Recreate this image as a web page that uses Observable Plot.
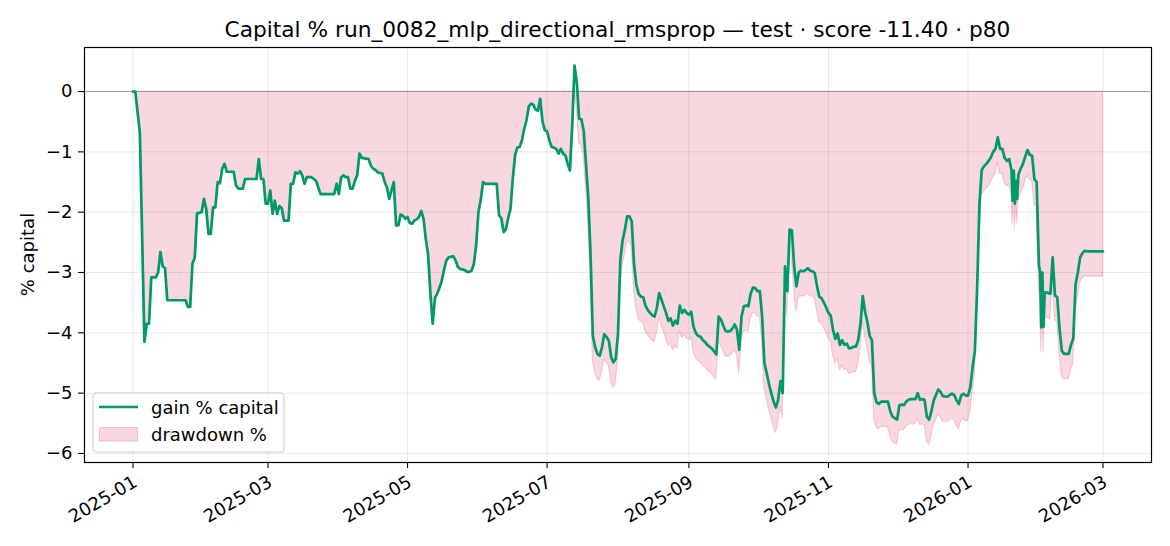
<!DOCTYPE html>
<html>
<head>
<meta charset="utf-8">
<script src="https://cdn.jsdelivr.net/npm/d3@7"></script>
<script src="https://cdn.jsdelivr.net/npm/@observablehq/plot@0.6"></script>
<style>
  html, body { margin: 0; padding: 0; background: #fff; }
  svg { display: block; }
</style>
</head>
<body>
<div id="chart"></div>
<script>
const titleText = "Capital % run_0082_mlp_directional_rmsprop — test · score -11.40 · p80";
const yLabel = "% capital";
const seriesNames = ["gain % capital", "drawdown %"];
const xTickLabels = ["2025-01", "2025-03", "2025-05", "2025-07", "2025-09", "2025-11", "2026-01", "2026-03"];
const yTicks = [0, -1, -2, -3, -4, -5, -6];

const gainSeries = [
["2025-01-01",0],["2025-01-02",0],["2025-01-03",-0.34],["2025-01-04",-0.68],["2025-01-05",-2.40],["2025-01-06",-4.15],
["2025-01-07",-3.85],["2025-01-08",-3.85],["2025-01-09",-3.08],["2025-01-11",-3.08],["2025-01-12",-3.00],["2025-01-13",-2.66],
["2025-01-14",-2.90],["2025-01-15",-2.93],["2025-01-16",-3.46],["2025-01-24",-3.46],["2025-01-25",-3.57],["2025-01-26",-3.57],
["2025-01-27",-2.85],["2025-01-28",-2.75],["2025-01-29",-2.02],["2025-01-31",-2.00],
["2025-02-01",-1.78],["2025-02-02",-1.95],["2025-02-03",-2.36],["2025-02-04",-2.36],["2025-02-05",-1.92],["2025-02-06",-1.92],
["2025-02-07",-1.50],["2025-02-08",-1.52],["2025-02-09",-1.28],["2025-02-10",-1.20],["2025-02-11",-1.33],["2025-02-14",-1.33],
["2025-02-15",-1.55],["2025-02-16",-1.61],["2025-02-18",-1.61],["2025-02-19",-1.45],["2025-02-24",-1.45],["2025-02-25",-1.12],
["2025-02-26",-1.45],["2025-02-27",-1.45],["2025-02-28",-1.86],
["2025-03-01",-1.86],["2025-03-02",-1.64],["2025-03-03",-2.03],["2025-03-04",-1.81],["2025-03-05",-2.03],["2025-03-06",-1.90],
["2025-03-07",-1.93],["2025-03-08",-2.14],["2025-03-10",-2.14],["2025-03-11",-1.53],["2025-03-12",-1.53],["2025-03-13",-1.34],
["2025-03-14",-1.36],["2025-03-15",-1.32],["2025-03-16",-1.39],["2025-03-17",-1.53],["2025-03-18",-1.42],["2025-03-20",-1.42],
["2025-03-21",-1.45],["2025-03-22",-1.48],["2025-03-23",-1.59],["2025-03-24",-1.70],["2025-03-30",-1.70],["2025-03-31",-1.53],
["2025-04-01",-1.70],["2025-04-02",-1.42],["2025-04-03",-1.39],["2025-04-04",-1.42],["2025-04-05",-1.42],["2025-04-06",-1.61],
["2025-04-07",-1.61],["2025-04-08",-1.48],["2025-04-09",-1.39],["2025-04-10",-1.03],["2025-04-11",-1.10],["2025-04-14",-1.12],
["2025-04-15",-1.23],["2025-04-16",-1.28],["2025-04-17",-1.30],["2025-04-18",-1.34],["2025-04-19",-1.35],["2025-04-20",-1.36],
["2025-04-21",-1.50],["2025-04-22",-1.59],["2025-04-23",-1.78],["2025-04-24",-1.64],["2025-04-25",-1.50],["2025-04-26",-2.22],
["2025-04-27",-2.22],["2025-04-28",-2.04],["2025-04-29",-2.06],["2025-04-30",-2.11],
["2025-05-01",-2.08],["2025-05-02",-2.18],["2025-05-03",-2.19],["2025-05-04",-2.14],["2025-05-05",-2.12],["2025-05-06",-2.08],
["2025-05-07",-1.98],["2025-05-08",-2.11],["2025-05-09",-2.45],["2025-05-10",-2.70],["2025-05-11",-3.35],["2025-05-12",-3.85],
["2025-05-13",-3.42],["2025-05-14",-3.35],["2025-05-15",-3.25],["2025-05-16",-3.13],["2025-05-17",-2.95],["2025-05-18",-2.80],
["2025-05-19",-2.75],["2025-05-21",-2.73],["2025-05-22",-2.80],["2025-05-23",-2.91],["2025-05-24",-2.94],["2025-05-26",-2.96],
["2025-05-27",-2.99],["2025-05-28",-2.99],["2025-05-29",-2.97],["2025-05-30",-2.86],["2025-05-31",-2.55],
["2025-06-01",-2.00],["2025-06-02",-1.80],["2025-06-03",-1.50],["2025-06-04",-1.53],["2025-06-09",-1.53],["2025-06-10",-2.05],
["2025-06-11",-2.10],["2025-06-12",-2.33],["2025-06-13",-2.28],["2025-06-14",-2.10],["2025-06-15",-1.95],["2025-06-16",-1.45],
["2025-06-17",-1.06],["2025-06-18",-0.93],["2025-06-19",-0.92],["2025-06-20",-0.81],["2025-06-21",-0.62],["2025-06-22",-0.48],
["2025-06-23",-0.25],["2025-06-24",-0.20],["2025-06-25",-0.22],["2025-06-26",-0.30],["2025-06-27",-0.32],["2025-06-28",-0.12],
["2025-06-29",-0.50],["2025-06-30",-0.64],
["2025-07-01",-0.66],["2025-07-02",-0.81],["2025-07-03",-0.92],["2025-07-04",-0.93],["2025-07-05",-0.95],["2025-07-06",-1.03],
["2025-07-07",-0.95],["2025-07-08",-1.03],["2025-07-09",-1.06],["2025-07-10",-1.20],["2025-07-11",-1.31],["2025-07-12",-0.56],
["2025-07-13",0.43],["2025-07-14",0.15],["2025-07-15",-0.45],["2025-07-16",-0.46],["2025-07-17",-0.65],["2025-07-18",-1.20],
["2025-07-19",-1.75],["2025-07-20",-2.70],["2025-07-21",-4.05],["2025-07-22",-4.24],["2025-07-23",-4.35],["2025-07-24",-4.38],
["2025-07-25",-4.24],["2025-07-26",-4.02],["2025-07-27",-4.07],["2025-07-28",-4.13],["2025-07-29",-4.40],["2025-07-30",-4.49],
["2025-07-31",-4.43],
["2025-08-01",-4.02],["2025-08-02",-2.80],["2025-08-03",-2.47],["2025-08-04",-2.29],["2025-08-05",-2.07],["2025-08-06",-2.07],
["2025-08-07",-2.15],["2025-08-08",-2.85],["2025-08-09",-3.20],["2025-08-10",-3.35],["2025-08-11",-3.40],["2025-08-12",-3.41],
["2025-08-13",-3.55],["2025-08-14",-3.62],["2025-08-15",-3.67],["2025-08-16",-3.71],["2025-08-17",-3.73],["2025-08-18",-3.58],
["2025-08-19",-3.34],["2025-08-20",-3.45],["2025-08-21",-3.56],["2025-08-22",-3.67],["2025-08-23",-3.80],["2025-08-24",-3.76],
["2025-08-25",-3.88],["2025-08-26",-3.80],["2025-08-27",-3.85],["2025-08-28",-3.55],["2025-08-29",-3.67],["2025-08-30",-3.62],
["2025-08-31",-3.67],
["2025-09-01",-3.70],["2025-09-02",-3.65],["2025-09-03",-3.90],["2025-09-04",-4.00],["2025-09-05",-4.05],["2025-09-06",-4.06],
["2025-09-07",-4.12],["2025-09-08",-4.15],["2025-09-09",-4.20],["2025-09-10",-4.23],["2025-09-11",-4.26],["2025-09-12",-4.31],
["2025-09-13",-4.36],["2025-09-14",-3.73],["2025-09-15",-3.78],["2025-09-16",-3.88],["2025-09-17",-3.97],["2025-09-18",-3.98],
["2025-09-19",-3.97],["2025-09-20",-3.93],["2025-09-21",-3.86],["2025-09-22",-3.95],["2025-09-23",-4.28],["2025-09-24",-3.73],
["2025-09-25",-3.56],["2025-09-26",-3.55],["2025-09-27",-3.56],["2025-09-28",-3.35],["2025-09-29",-3.25],["2025-09-30",-3.26],
["2025-10-01",-3.31],["2025-10-02",-3.31],["2025-10-03",-3.73],["2025-10-04",-4.50],["2025-10-05",-4.67],["2025-10-06",-4.85],
["2025-10-07",-5.00],["2025-10-08",-5.14],["2025-10-09",-5.24],["2025-10-10",-5.11],["2025-10-11",-4.80],["2025-10-12",-5.00],
["2025-10-13",-2.90],["2025-10-14",-3.31],["2025-10-15",-2.29],["2025-10-16",-2.30],["2025-10-17",-2.90],["2025-10-18",-3.23],
["2025-10-19",-3.00],["2025-10-20",-2.97],["2025-10-21",-2.98],["2025-10-22",-2.96],["2025-10-23",-2.93],["2025-10-24",-2.97],
["2025-10-25",-2.98],["2025-10-26",-3.01],["2025-10-27",-3.23],["2025-10-28",-3.40],["2025-10-29",-3.43],["2025-10-30",-3.50],
["2025-10-31",-3.58],
["2025-11-01",-3.67],["2025-11-02",-3.72],["2025-11-03",-3.95],["2025-11-04",-4.10],["2025-11-05",-4.01],["2025-11-06",-4.20],
["2025-11-07",-4.12],["2025-11-08",-4.20],["2025-11-09",-4.18],["2025-11-10",-4.26],["2025-11-11",-4.25],["2025-11-12",-4.23],
["2025-11-13",-4.23],["2025-11-14",-4.12],["2025-11-15",-3.85],["2025-11-16",-3.39],["2025-11-17",-3.65],["2025-11-18",-3.82],
["2025-11-19",-4.05],["2025-11-20",-4.12],["2025-11-21",-5.00],["2025-11-22",-5.15],["2025-11-23",-5.18],["2025-11-24",-5.14],
["2025-11-27",-5.14],["2025-11-28",-5.30],["2025-11-29",-5.39],
["2025-12-01",-5.44],["2025-12-02",-5.20],["2025-12-03",-5.19],["2025-12-04",-5.20],["2025-12-05",-5.14],["2025-12-06",-5.11],
["2025-12-07",-5.10],["2025-12-09",-5.10],["2025-12-10",-5.00],["2025-12-11",-5.11],["2025-12-12",-5.10],["2025-12-13",-5.11],
["2025-12-14",-5.39],["2025-12-15",-5.44],["2025-12-16",-5.30],["2025-12-17",-5.12],["2025-12-18",-5.03],["2025-12-19",-4.94],
["2025-12-20",-4.98],["2025-12-21",-5.05],["2025-12-23",-5.06],["2025-12-24",-5.03],["2025-12-25",-5.01],["2025-12-26",-5.03],
["2025-12-27",-5.12],["2025-12-28",-5.18],["2025-12-29",-5.04],["2025-12-30",-5.01],["2025-12-31",-5.04],
["2026-01-01",-5.04],["2026-01-02",-4.90],["2026-01-03",-4.57],["2026-01-04",-4.30],["2026-01-05",-3.24],["2026-01-06",-1.86],
["2026-01-07",-1.30],["2026-01-08",-1.24],["2026-01-09",-1.20],["2026-01-10",-1.15],["2026-01-11",-1.09],["2026-01-12",-1.00],
["2026-01-13",-0.95],["2026-01-14",-0.76],["2026-01-15",-0.95],["2026-01-16",-0.95],["2026-01-17",-1.10],["2026-01-18",-1.15],
["2026-01-19",-1.12],["2026-01-20",-1.30],["2026-01-20T12:00Z",-1.81],["2026-01-21",-1.31],["2026-01-21T12:00Z",-1.86],
["2026-01-22",-1.48],["2026-01-22T12:00Z",-1.78],["2026-01-23",-1.38],["2026-01-24",-1.28],["2026-01-25",-1.20],["2026-01-26",-1.08],
["2026-01-27",-0.97],["2026-01-28",-1.05],["2026-01-29",-1.06],["2026-01-30",-1.45],["2026-01-31",-1.50],
["2026-02-01",-2.88],["2026-02-01T12:00Z",-2.99],["2026-02-02",-3.91],["2026-02-02T12:00Z",-3.00],["2026-02-03",-3.90],
["2026-02-03T12:00Z",-3.33],["2026-02-04",-3.33],["2026-02-06",-3.35],["2026-02-07",-2.75],["2026-02-08",-3.38],["2026-02-09",-3.41],
["2026-02-10",-3.93],["2026-02-11",-4.30],["2026-02-12",-4.35],["2026-02-14",-4.35],["2026-02-15",-4.20],["2026-02-16",-4.10],
["2026-02-17",-3.20],["2026-02-18",-3.00],["2026-02-19",-2.75],["2026-02-20",-2.68],["2026-02-21",-2.64],["2026-02-22",-2.65],
["2026-03-01",-2.65]
];

const drawdownSeries = [
["2025-01-01",0],["2025-01-02",0],["2025-01-03",-0.34],["2025-01-04",-0.68],["2025-01-05",-2.40],["2025-01-06",-4.15],
["2025-01-07",-3.85],["2025-01-08",-3.85],["2025-01-09",-3.08],["2025-01-11",-3.08],["2025-01-12",-3.00],["2025-01-13",-2.66],
["2025-01-14",-2.90],["2025-01-15",-2.93],["2025-01-16",-3.46],["2025-01-24",-3.46],["2025-01-25",-3.57],["2025-01-26",-3.57],
["2025-01-27",-2.85],["2025-01-28",-2.75],["2025-01-29",-2.02],["2025-01-31",-2.00],
["2025-02-01",-1.78],["2025-02-02",-1.95],["2025-02-03",-2.36],["2025-02-04",-2.36],["2025-02-05",-1.92],["2025-02-06",-1.92],
["2025-02-07",-1.50],["2025-02-08",-1.52],["2025-02-09",-1.28],["2025-02-10",-1.20],["2025-02-11",-1.33],["2025-02-14",-1.33],
["2025-02-15",-1.55],["2025-02-16",-1.61],["2025-02-18",-1.61],["2025-02-19",-1.45],["2025-02-24",-1.45],["2025-02-25",-1.12],
["2025-02-26",-1.45],["2025-02-27",-1.45],["2025-02-28",-1.86],
["2025-03-01",-1.86],["2025-03-02",-1.64],["2025-03-03",-2.03],["2025-03-04",-1.81],["2025-03-05",-2.03],["2025-03-06",-1.90],
["2025-03-07",-1.93],["2025-03-08",-2.14],["2025-03-10",-2.14],["2025-03-11",-1.53],["2025-03-12",-1.53],["2025-03-13",-1.34],
["2025-03-14",-1.36],["2025-03-15",-1.32],["2025-03-16",-1.39],["2025-03-17",-1.53],["2025-03-18",-1.42],["2025-03-20",-1.42],
["2025-03-21",-1.45],["2025-03-22",-1.48],["2025-03-23",-1.59],["2025-03-24",-1.70],["2025-03-30",-1.70],["2025-03-31",-1.53],
["2025-04-01",-1.70],["2025-04-02",-1.42],["2025-04-03",-1.39],["2025-04-04",-1.42],["2025-04-05",-1.42],["2025-04-06",-1.61],
["2025-04-07",-1.61],["2025-04-08",-1.48],["2025-04-09",-1.39],["2025-04-10",-1.03],["2025-04-11",-1.10],["2025-04-14",-1.12],
["2025-04-15",-1.23],["2025-04-16",-1.28],["2025-04-17",-1.30],["2025-04-18",-1.34],["2025-04-19",-1.35],["2025-04-20",-1.36],
["2025-04-21",-1.50],["2025-04-22",-1.59],["2025-04-23",-1.78],["2025-04-24",-1.64],["2025-04-25",-1.50],["2025-04-26",-2.22],
["2025-04-27",-2.22],["2025-04-28",-2.04],["2025-04-29",-2.06],["2025-04-30",-2.11],
["2025-05-01",-2.08],["2025-05-02",-2.18],["2025-05-03",-2.19],["2025-05-04",-2.14],["2025-05-05",-2.12],["2025-05-06",-2.08],
["2025-05-07",-1.98],["2025-05-08",-2.11],["2025-05-09",-2.45],["2025-05-10",-2.70],["2025-05-11",-3.35],["2025-05-12",-3.85],
["2025-05-13",-3.42],["2025-05-14",-3.35],["2025-05-15",-3.25],["2025-05-16",-3.13],["2025-05-17",-2.95],["2025-05-18",-2.80],
["2025-05-19",-2.75],["2025-05-21",-2.73],["2025-05-22",-2.80],["2025-05-23",-2.91],["2025-05-24",-2.94],["2025-05-26",-2.96],
["2025-05-27",-2.99],["2025-05-28",-2.99],["2025-05-29",-2.97],["2025-05-30",-2.86],["2025-05-31",-2.55],
["2025-06-01",-2.00],["2025-06-02",-1.80],["2025-06-03",-1.50],["2025-06-04",-1.53],["2025-06-09",-1.53],["2025-06-10",-2.05],
["2025-06-11",-2.10],["2025-06-12",-2.33],["2025-06-13",-2.28],["2025-06-14",-2.10],["2025-06-15",-1.95],["2025-06-16",-1.45],
["2025-06-17",-1.06],["2025-06-18",-0.93],["2025-06-19",-0.92],["2025-06-20",-0.81],["2025-06-21",-0.62],["2025-06-22",-0.48],
["2025-06-23",-0.25],["2025-06-24",-0.20],["2025-06-25",-0.22],["2025-06-26",-0.30],["2025-06-27",-0.32],["2025-06-28",-0.12],
["2025-06-29",-0.50],["2025-06-30",-0.64],
["2025-07-01",-0.66],["2025-07-02",-0.81],["2025-07-03",-0.92],["2025-07-04",-0.93],["2025-07-05",-0.95],["2025-07-06",-1.03],
["2025-07-07",-0.95],["2025-07-08",-1.03],["2025-07-09",-1.06],["2025-07-10",-1.20],["2025-07-11",-1.31],["2025-07-12",-0.56],
["2025-07-13",0],["2025-07-14",-0.28],["2025-07-15",-0.87],["2025-07-16",-0.88],["2025-07-17",-1.07],["2025-07-18",-1.62],
["2025-07-19",-2.17],["2025-07-20",-3.12],["2025-07-21",-4.47],["2025-07-22",-4.66],["2025-07-23",-4.77],["2025-07-24",-4.80],
["2025-07-25",-4.66],["2025-07-26",-4.44],["2025-07-27",-4.49],["2025-07-28",-4.55],["2025-07-29",-4.82],["2025-07-30",-4.91],
["2025-07-31",-4.85],
["2025-08-01",-4.44],["2025-08-02",-3.22],["2025-08-03",-2.89],["2025-08-04",-2.71],["2025-08-05",-2.49],["2025-08-06",-2.49],
["2025-08-07",-2.57],["2025-08-08",-3.27],["2025-08-09",-3.62],["2025-08-10",-3.77],["2025-08-11",-3.82],["2025-08-12",-3.83],
["2025-08-13",-3.97],["2025-08-14",-4.04],["2025-08-15",-4.09],["2025-08-16",-4.13],["2025-08-17",-4.15],["2025-08-18",-4.00],
["2025-08-19",-3.76],["2025-08-20",-3.87],["2025-08-21",-3.98],["2025-08-22",-4.09],["2025-08-23",-4.22],["2025-08-24",-4.18],
["2025-08-25",-4.30],["2025-08-26",-4.22],["2025-08-27",-4.27],["2025-08-28",-3.97],["2025-08-29",-4.09],["2025-08-30",-4.04],
["2025-08-31",-4.09],
["2025-09-01",-4.12],["2025-09-02",-4.07],["2025-09-03",-4.32],["2025-09-04",-4.42],["2025-09-05",-4.47],["2025-09-06",-4.48],
["2025-09-07",-4.54],["2025-09-08",-4.57],["2025-09-09",-4.62],["2025-09-10",-4.65],["2025-09-11",-4.68],["2025-09-12",-4.73],
["2025-09-13",-4.78],["2025-09-14",-4.15],["2025-09-15",-4.20],["2025-09-16",-4.30],["2025-09-17",-4.39],["2025-09-18",-4.40],
["2025-09-19",-4.39],["2025-09-20",-4.35],["2025-09-21",-4.28],["2025-09-22",-4.37],["2025-09-23",-4.70],["2025-09-24",-4.15],
["2025-09-25",-3.98],["2025-09-26",-3.97],["2025-09-27",-3.98],["2025-09-28",-3.77],["2025-09-29",-3.67],["2025-09-30",-3.68],
["2025-10-01",-3.73],["2025-10-02",-3.73],["2025-10-03",-4.15],["2025-10-04",-4.92],["2025-10-05",-5.09],["2025-10-06",-5.27],
["2025-10-07",-5.42],["2025-10-08",-5.56],["2025-10-09",-5.66],["2025-10-10",-5.53],["2025-10-11",-5.22],["2025-10-12",-5.42],
["2025-10-13",-3.32],["2025-10-14",-3.73],["2025-10-15",-2.71],["2025-10-16",-2.72],["2025-10-17",-3.32],["2025-10-18",-3.65],
["2025-10-19",-3.42],["2025-10-20",-3.39],["2025-10-21",-3.40],["2025-10-22",-3.38],["2025-10-23",-3.35],["2025-10-24",-3.39],
["2025-10-25",-3.40],["2025-10-26",-3.43],["2025-10-27",-3.65],["2025-10-28",-3.82],["2025-10-29",-3.85],["2025-10-30",-3.92],
["2025-10-31",-4.00],
["2025-11-01",-4.09],["2025-11-02",-4.14],["2025-11-03",-4.37],["2025-11-04",-4.52],["2025-11-05",-4.43],["2025-11-06",-4.62],
["2025-11-07",-4.54],["2025-11-08",-4.62],["2025-11-09",-4.60],["2025-11-10",-4.68],["2025-11-11",-4.67],["2025-11-12",-4.65],
["2025-11-13",-4.65],["2025-11-14",-4.54],["2025-11-15",-4.27],["2025-11-16",-3.81],["2025-11-17",-4.07],["2025-11-18",-4.24],
["2025-11-19",-4.47],["2025-11-20",-4.54],["2025-11-21",-5.42],["2025-11-22",-5.57],["2025-11-23",-5.60],["2025-11-24",-5.56],
["2025-11-27",-5.56],["2025-11-28",-5.72],["2025-11-29",-5.81],
["2025-12-01",-5.86],["2025-12-02",-5.62],["2025-12-03",-5.61],["2025-12-04",-5.62],["2025-12-05",-5.56],["2025-12-06",-5.53],
["2025-12-07",-5.52],["2025-12-09",-5.52],["2025-12-10",-5.42],["2025-12-11",-5.53],["2025-12-12",-5.52],["2025-12-13",-5.53],
["2025-12-14",-5.81],["2025-12-15",-5.86],["2025-12-16",-5.72],["2025-12-17",-5.54],["2025-12-18",-5.45],["2025-12-19",-5.36],
["2025-12-20",-5.40],["2025-12-21",-5.47],["2025-12-23",-5.48],["2025-12-24",-5.45],["2025-12-25",-5.43],["2025-12-26",-5.45],
["2025-12-27",-5.54],["2025-12-28",-5.60],["2025-12-29",-5.46],["2025-12-30",-5.43],["2025-12-31",-5.46],
["2026-01-01",-5.46],["2026-01-02",-5.32],["2026-01-03",-4.99],["2026-01-04",-4.72],["2026-01-05",-3.66],["2026-01-06",-2.28],
["2026-01-07",-1.72],["2026-01-08",-1.66],["2026-01-09",-1.62],["2026-01-10",-1.57],["2026-01-11",-1.51],["2026-01-12",-1.42],
["2026-01-13",-1.37],["2026-01-14",-1.18],["2026-01-15",-1.37],["2026-01-16",-1.37],["2026-01-17",-1.52],["2026-01-18",-1.57],
["2026-01-19",-1.54],["2026-01-20",-1.72],["2026-01-20T12:00Z",-2.23],["2026-01-21",-1.73],["2026-01-21T12:00Z",-2.28],
["2026-01-22",-1.90],["2026-01-22T12:00Z",-2.20],["2026-01-23",-1.80],["2026-01-24",-1.70],["2026-01-25",-1.62],["2026-01-26",-1.50],
["2026-01-27",-1.39],["2026-01-28",-1.47],["2026-01-29",-1.48],["2026-01-30",-1.87],["2026-01-31",-1.92],
["2026-02-01",-3.30],["2026-02-01T12:00Z",-3.41],["2026-02-02",-4.33],["2026-02-02T12:00Z",-3.42],["2026-02-03",-4.32],
["2026-02-03T12:00Z",-3.75],["2026-02-04",-3.75],["2026-02-06",-3.77],["2026-02-07",-3.17],["2026-02-08",-3.80],["2026-02-09",-3.83],
["2026-02-10",-4.35],["2026-02-11",-4.72],["2026-02-12",-4.77],["2026-02-14",-4.77],["2026-02-15",-4.62],["2026-02-16",-4.52],
["2026-02-17",-3.62],["2026-02-18",-3.42],["2026-02-19",-3.17],["2026-02-20",-3.10],["2026-02-21",-3.06],["2026-02-22",-3.07],
["2026-03-01",-3.07]
];

const GREEN = "#00996b";
const PINK = "#dc143c";
const FONT = "DejaVu Sans, Liberation Sans, sans-serif";
const FS = 18;       // tick / label / legend font size
const FS_TITLE = 21.7;

const gainData = gainSeries.map(([d, v]) => ({date: new Date(d), value: v}));
const ddData = drawdownSeries.map(([d, v]) => ({date: new Date(d), value: v}));
const xTicks = xTickLabels.map(s => new Date(s + "-01"));
const fmtY = d => d === 0 ? "0" : "\u2212" + Math.abs(d);
const fmtX = d3.utcFormat("%Y-%m");

const W = 1170, H = 546;
const mL = 84, mR = 19, mT = 47, mB = 84;

const svg = Plot.plot({
  width: W,
  height: H,
  marginLeft: mL,
  marginRight: mR,
  marginTop: mT,
  marginBottom: mB,
  style: {fontFamily: FONT, fontSize: FS + "px", background: "#fff", color: "#000", overflow: "visible"},
  x: {type: "utc", domain: [new Date("2024-12-10T19:12Z"), new Date("2026-03-22T04:48Z")]},
  y: {domain: [-6.15, 0.73]},
  marks: [
    Plot.gridX(xTicks, {stroke: "#000", strokeOpacity: 0.1, strokeWidth: 0.9}),
    Plot.gridY(yTicks, {stroke: "#000", strokeOpacity: 0.1, strokeWidth: 0.9}),
    Plot.areaY(ddData, {x: "date", y1: 0, y2: "value", fill: PINK, fillOpacity: 0.17, stroke: PINK, strokeOpacity: 0.17, strokeWidth: 1.2}),
    Plot.ruleY([0], {stroke: "#7f8699", strokeOpacity: 0.75, strokeWidth: 1.1}),
    Plot.lineY(gainData, {x: "date", y: "value", stroke: GREEN, strokeWidth: 2.7, strokeLinejoin: "round"}),
    Plot.frame({stroke: "#000", strokeWidth: 1.2}),
    Plot.axisY({ticks: yTicks, tickSize: 6, tickPadding: 6, tickFormat: fmtY, label: null, fontSize: FS, strokeWidth: 1.1}),
    Plot.axisX({ticks: xTicks, tickSize: 6, tickFormat: () => "", label: null, strokeWidth: 1.1}),
    Plot.text(xTicks, {x: d => d, frameAnchor: "bottom", text: d => fmtX(d), rotate: -30, textAnchor: "end", lineAnchor: "top", dy: 12, dx: -1, fontSize: FS, fill: "#000"})
  ]
});

const s = d3.select(svg);
s.append("text")
  .attr("x", (mL + (W - mR)) / 2).attr("y", 29)
  .attr("text-anchor", "middle").attr("dominant-baseline", "central")
  .style("font-family", FONT).style("font-size", FS_TITLE + "px").attr("fill", "#000")
  .text(titleText);
s.append("text")
  .attr("transform", `translate(27,${(mT + H - mB) / 2}) rotate(-90)`)
  .attr("text-anchor", "middle").attr("dominant-baseline", "central")
  .style("font-family", FONT).style("font-size", FS + "px").attr("fill", "#000")
  .text(yLabel);

const lg = s.append("g");
lg.append("rect").attr("x", 93).attr("y", 393).attr("width", 191).attr("height", 59).attr("rx", 3)
  .attr("fill", "#fff").attr("fill-opacity", 0.8).attr("stroke", "#cccccc").attr("stroke-width", 1);
lg.append("line").attr("x1", 99).attr("x2", 138).attr("y1", 407).attr("y2", 407)
  .attr("stroke", GREEN).attr("stroke-width", 2.7);
lg.append("rect").attr("x", 99.5).attr("y", 427.5).attr("width", 38).attr("height", 13.5)
  .attr("fill", PINK).attr("fill-opacity", 0.17).attr("stroke", PINK).attr("stroke-opacity", 0.22);
lg.append("text").attr("x", 151).attr("y", 407).attr("dominant-baseline", "central").attr("text-anchor", "start")
  .style("font-family", FONT).style("font-size", FS + "px").attr("fill", "#000").text(seriesNames[0]);
lg.append("text").attr("x", 151).attr("y", 434.5).attr("dominant-baseline", "central").attr("text-anchor", "start")
  .style("font-family", FONT).style("font-size", FS + "px").attr("fill", "#000").text(seriesNames[1]);

document.getElementById("chart").appendChild(svg);
</script>
</body>
</html>
